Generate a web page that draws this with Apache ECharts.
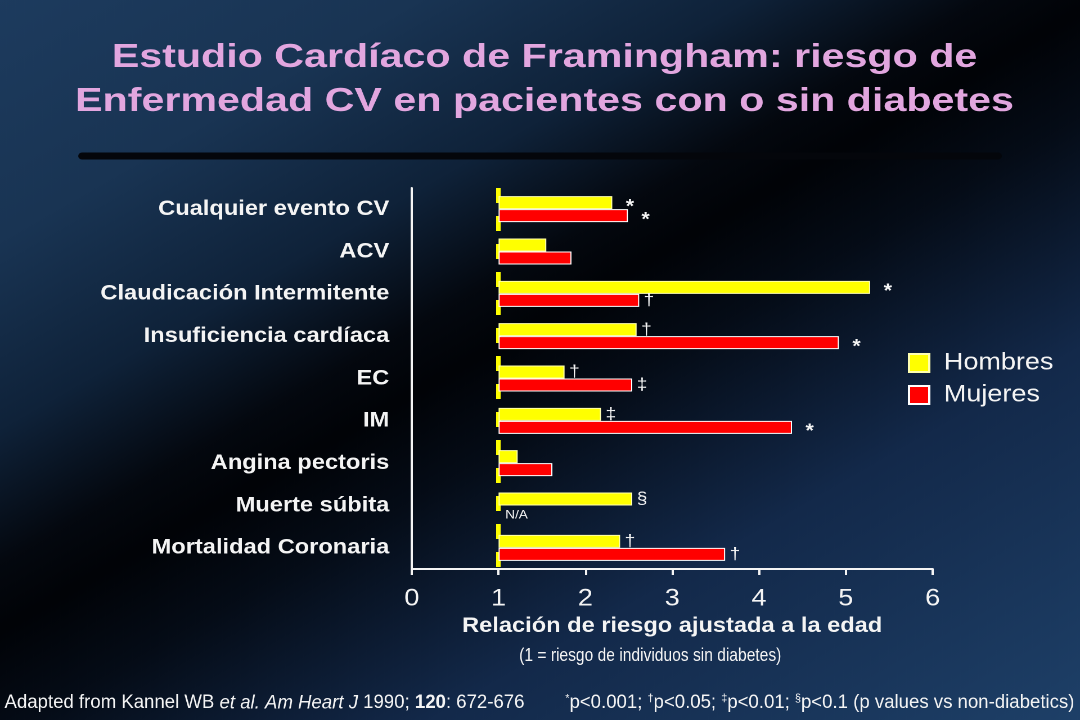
<!DOCTYPE html>
<html>
<head>
<meta charset="utf-8">
<title>Estudio Cardíaco de Framingham</title>
<script src="https://cdn.jsdelivr.net/npm/echarts@6/dist/echarts.min.js"></script>
<style>
html, body { margin: 0; padding: 0; width: 1080px; height: 720px; overflow: hidden; background: #0b1626; }
/* the slide was stretched from 4:3 to 1080x720, so draw at 960 wide and stretch it the same way */
#chart { width: 960px; height: 720px; transform: scaleX(1.125); transform-origin: 0 0; }
</style>
</head>
<body>
<div id="chart"></div>
<script>
var categorias = ['Cualquier evento CV', 'ACV', 'Claudicación Intermitente', 'Insuficiencia cardíaca', 'EC', 'IM', 'Angina pectoris', 'Muerte súbita', 'Mortalidad Coronaria'];
var hombres = [2.31, 1.55, 5.28, 2.59, 1.76, 2.18, 1.22, 2.54, 2.40];
var mujeres = [2.49, 1.84, 2.62, 4.92, 2.54, 4.38, 1.62, null, 3.61];
var hombresSig = ['*', '', '*', '†', '†', '‡', '', '§', '†'];
var mujeresSig = ['*', '', '†', '*', '‡', '*', '', '', '†'];
var referencia = 1;
var ejeMin = 0, ejeMax = 6, ejePaso = 1;

var fuente = '"Liberation Sans", Arial, Helvetica, sans-serif';
var blanco = '#f4f4f4';

// bars start at 1 (no risk), so each one sits on a transparent base of 1
var baseH = hombres.map(function (v) { return v == null ? null : referencia; });
var baseM = mujeres.map(function (v) { return v == null ? null : referencia; });
var restoH = hombres.map(function (v) { return v == null ? null : +(v - referencia).toFixed(2); });
var restoM = mujeres.map(function (v) { return v == null ? null : +(v - referencia).toFixed(2); });

function etiquetaSig(lista) {
	return function (p) {
		var s = lista[p.dataIndex];
		if (!s) return '';
		return s == '*' ? '{star|*}' : '{mark|' + s + '}';
	};
}

var richSig = {
	star: { color: blanco, fontSize: 19, fontWeight: 'bold', fontFamily: fuente, padding: [9, 0, 0, 12] },
	mark: { color: blanco, fontSize: 17, fontFamily: fuente, padding: [0, 0, 0, 4] }
};

var chart = echarts.init(document.getElementById('chart'), null, { renderer: 'canvas', devicePixelRatio: 2 });

var option = {
	animation: false,
	backgroundColor: {
		type: 'linear',
		x: 0.707, y: -0.606, x2: 1.342, y2: 0.708,
		colorStops: [
			{ offset: 0, color: '#1d3b5e' },
			{ offset: 0.18, color: '#193453' },
			{ offset: 0.32, color: '#0f2239' },
			{ offset: 0.42, color: '#04080f' },
			{ offset: 0.47, color: '#010307' },
			{ offset: 0.55, color: '#050c17' },
			{ offset: 0.72, color: '#13294a' },
			{ offset: 1, color: '#1e4068' }
		]
	},
	grid: { left: 366, right: 131, top: 188, bottom: 151 },
	legend: {
		data: ['Hombres', 'Mujeres'],
		orient: 'vertical',
		left: 802, top: 346,
		itemWidth: 18, itemHeight: 18, itemGap: 8,
		icon: 'rect',
		textStyle: { color: blanco, fontSize: 24, fontFamily: fuente, padding: [0, 0, 0, 8] }
	},
	xAxis: {
		type: 'value',
		min: ejeMin, max: ejeMax, interval: ejePaso,
		name: 'Relación de riesgo ajustada a la edad',
		nameLocation: 'middle',
		nameGap: 46,
		nameTextStyle: { color: blanco, fontSize: 21, fontWeight: 'bold', fontFamily: fuente, verticalAlign: 'top' },
		axisLine: { show: true, lineStyle: { color: blanco, width: 2 } },
		axisTick: { show: true, length: 6, lineStyle: { color: blanco, width: 2 } },
		axisLabel: { color: blanco, fontSize: 24, fontFamily: fuente, margin: 18 },
		splitLine: { show: false }
	},
	yAxis: {
		type: 'category',
		inverse: true,
		data: categorias,
		axisLine: { show: true, lineStyle: { color: blanco, width: 2 } },
		axisTick: { show: false },
		axisLabel: { color: blanco, fontSize: 21, fontWeight: 'bold', fontFamily: fuente, margin: 20 }
	},
	series: [
		{
			name: 'baseH', type: 'bar', stack: 'h', data: baseH,
			barWidth: 13, barGap: '0%', silent: true,
			itemStyle: { color: 'rgba(0,0,0,0)' },
			markLine: {
				silent: true, symbol: 'none', z: 1,
				label: { show: false },
				lineStyle: { color: '#ffff00', width: 4, type: [15, 13] },
				data: [{ xAxis: referencia }]
			}
		},
		{
			name: 'Hombres', type: 'bar', stack: 'h', data: restoH,
			barWidth: 13, barGap: '0%',
			itemStyle: { color: '#ffff00', borderColor: '#ffffb0', borderWidth: 1 },
			label: { show: true, position: 'right', distance: 0, formatter: etiquetaSig(hombresSig), rich: richSig }
		},
		{
			name: 'baseM', type: 'bar', stack: 'm', data: baseM,
			barWidth: 13, barGap: '0%', silent: true,
			itemStyle: { color: 'rgba(0,0,0,0)' },
			markPoint: {
				silent: true, symbol: 'rect', symbolSize: 0,
				label: { show: true, position: 'right', distance: 6, offset: [0, 3], formatter: 'N/A', color: blanco, fontSize: 12, fontFamily: fuente },
				data: [{ coord: [referencia, 'Muerte súbita'] }]
			}
		},
		{
			name: 'Mujeres', type: 'bar', stack: 'm', data: restoM,
			barWidth: 13, barGap: '0%',
			itemStyle: { color: '#ff0000', borderColor: '#ffffff', borderWidth: 1 },
			label: { show: true, position: 'right', distance: 0, formatter: etiquetaSig(mujeresSig), rich: richSig }
		}
	],
	graphic: [
		{
			type: 'text', x: 484, y: 58, scaleX: 1.11,
			style: { text: 'Estudio Cardíaco de Framingham: riesgo de', fill: '#e2a6df', fontSize: 33, fontWeight: 'bold', fontFamily: fuente, align: 'center', verticalAlign: 'middle' }
		},
		{
			type: 'text', x: 484, y: 102, scaleX: 1.11,
			style: { text: 'Enfermedad CV en pacientes con o sin diabetes', fill: '#e2a6df', fontSize: 33, fontWeight: 'bold', fontFamily: fuente, align: 'center', verticalAlign: 'middle' }
		},
		{
			type: 'line', shape: { x1: 73, y1: 156, x2: 887, y2: 156 },
			style: { stroke: '#04060b', lineWidth: 7, lineCap: 'round' }
		},
		{
			type: 'text', x: 578, y: 656, scaleX: 0.77,
			style: { text: '(1 = riesgo de individuos sin diabetes)', fill: blanco, fontSize: 18, fontFamily: fuente, align: 'center', verticalAlign: 'middle' }
		},
		{
			type: 'text', x: 4, y: 703, scaleX: 0.87,
			style: {
				text: 'Adapted from Kannel WB {i|et al. Am Heart J} 1990; {b|120}: 672-676',
				fill: blanco, fontSize: 19, fontFamily: fuente, align: 'left', verticalAlign: 'middle',
				rich: {
					i: { fontStyle: 'italic', fontSize: 19, fontFamily: fuente, fill: blanco },
					b: { fontWeight: 'bold', fontSize: 19, fontFamily: fuente, fill: blanco }
				}
			}
		},
		{
			type: 'text', x: 955, y: 703, scaleX: 0.87,
			style: {
				text: '{s|*}p<0.001; {s|†}p<0.05; {s|‡}p<0.01; {s|§}p<0.1 (p values vs non-diabetics)',
				fill: blanco, fontSize: 19, fontFamily: fuente, align: 'right', verticalAlign: 'middle',
				rich: {
					s: { fontSize: 11, fontFamily: fuente, fill: blanco, verticalAlign: 'top', lineHeight: 20 }
				}
			}
		}
	]
};

chart.setOption(option);
</script>
</body>
</html>
